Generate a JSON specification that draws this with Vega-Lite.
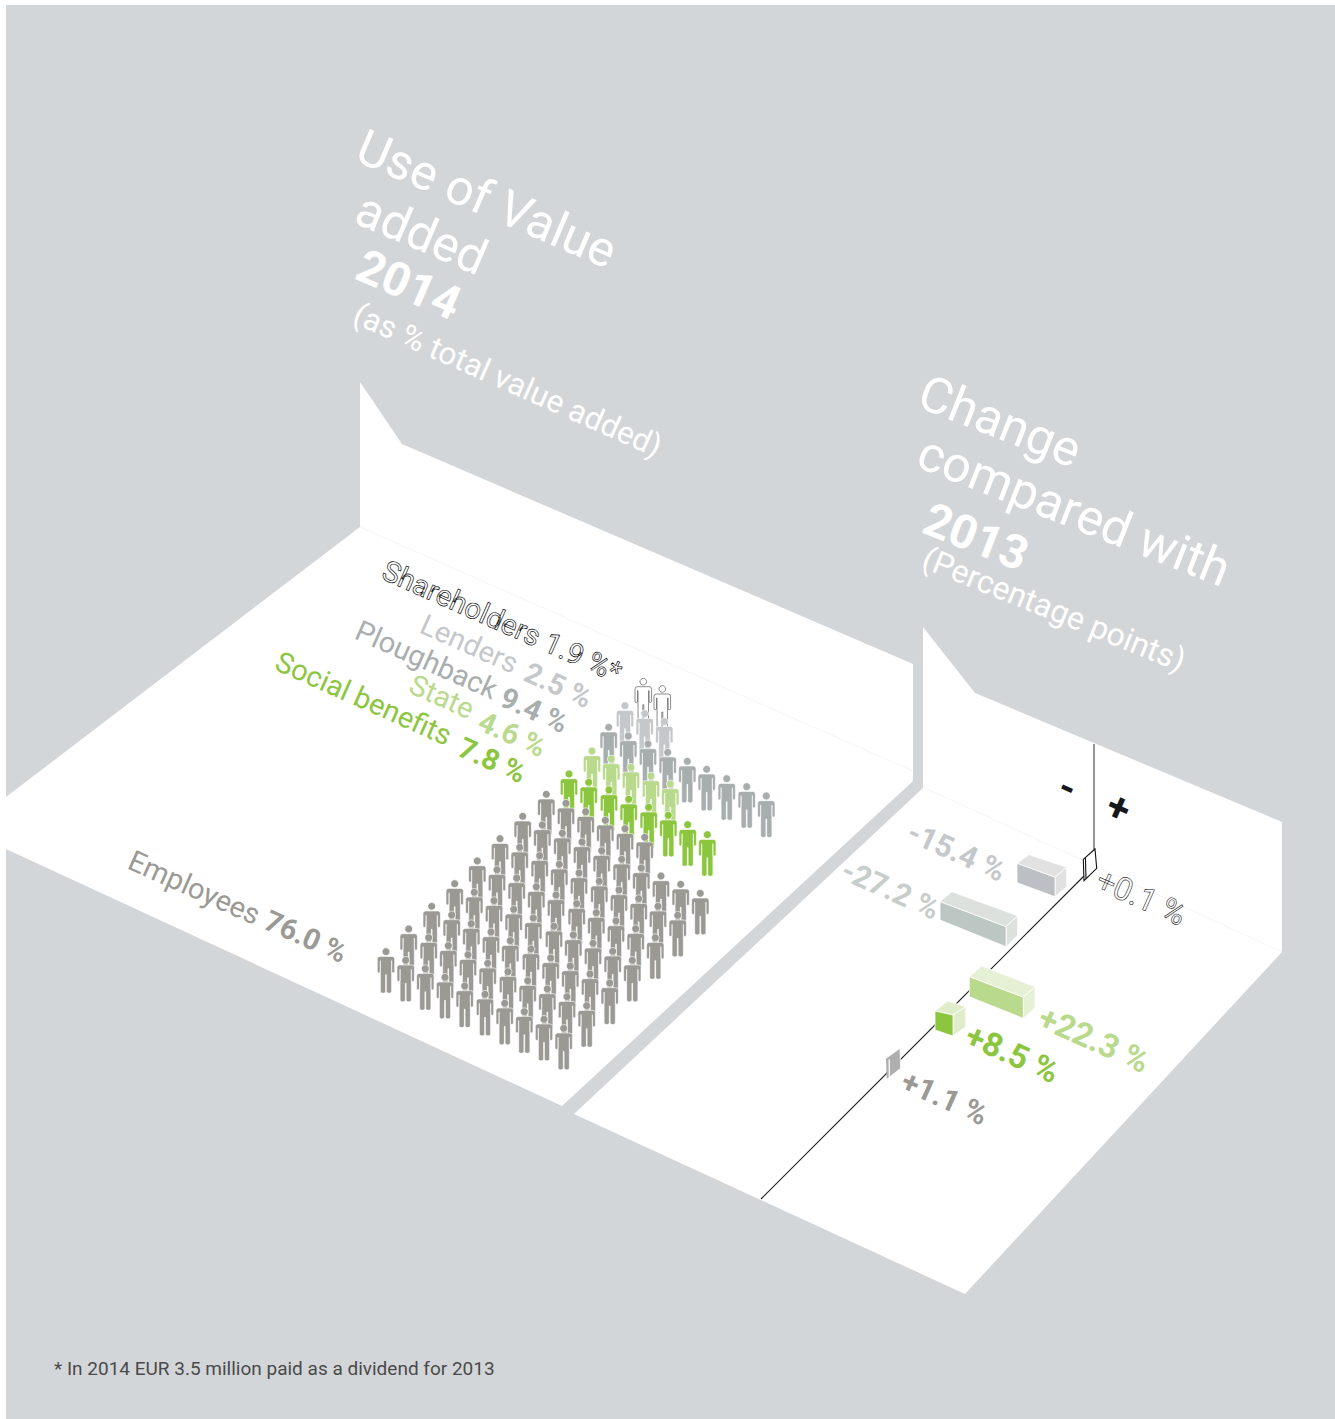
{
"$schema":"https://vega.github.io/schema/vega-lite/v6.json",
"width":1335,"height":1419,"padding":0,"autosize":{"type":"none"},"background":"#ffffff",
"config":{"view":{"stroke":null}},
"datasets":{
"planes":[
{"name":"backdrop","series":"Backdrop","v":1,"x":6,"y":5},{"name":"backdrop","series":"Backdrop","v":2,"x":1335,"y":5},{"name":"backdrop","series":"Backdrop","v":3,"x":1335,"y":1419},{"name":"backdrop","series":"Backdrop","v":4,"x":6,"y":1419},
{"name":"value added","series":"Plane","v":1,"x":360,"y":382},{"name":"value added","series":"Plane","v":2,"x":402,"y":444},{"name":"value added","series":"Plane","v":3,"x":913,"y":664},{"name":"value added","series":"Plane","v":4,"x":913,"y":781},{"name":"value added","series":"Plane","v":5,"x":562,"y":1106},{"name":"value added","series":"Plane","v":6,"x":6,"y":849},{"name":"value added","series":"Plane","v":7,"x":6,"y":797},{"name":"value added","series":"Plane","v":8,"x":360,"y":527},
{"name":"change","series":"Plane","v":1,"x":923,"y":627},{"name":"change","series":"Plane","v":2,"x":975,"y":693},{"name":"change","series":"Plane","v":3,"x":1282,"y":822},{"name":"change","series":"Plane","v":4,"x":1282,"y":952},{"name":"change","series":"Plane","v":5,"x":965,"y":1294},{"name":"change","series":"Plane","v":6,"x":574,"y":1114},{"name":"change","series":"Plane","v":7,"x":923,"y":788}
],
"creases":[
{"name":"left crease","v":1,"x":360,"y":527},{"name":"left crease","v":2,"x":913,"y":771},
{"name":"right crease","v":1,"x":923,"y":787},{"name":"right crease","v":2,"x":1282,"y":952}
],
"axisUp":[{"v":1,"x":1094,"y":744},{"v":2,"x":1094,"y":851}],
"axisFloor":[{"v":1,"x":1084,"y":876},{"v":2,"x":761,"y":1199}],
"faces":[
{"name":"l-top","series":"Lenders side","v":1,"x":1017,"y":863.3},{"name":"l-top","series":"Lenders side","v":2,"x":1029,"y":854.7},{"name":"l-top","series":"Lenders side","v":3,"x":1066.7,"y":867.3},{"name":"l-top","series":"Lenders side","v":4,"x":1055,"y":877.3},{"name":"l-top","series":"Lenders side","v":5,"x":1017,"y":863.3},
{"name":"l-side","series":"Lenders side","v":1,"x":1055,"y":877.3},{"name":"l-side","series":"Lenders side","v":2,"x":1066.7,"y":867.3},{"name":"l-side","series":"Lenders side","v":3,"x":1066.7,"y":886.7},{"name":"l-side","series":"Lenders side","v":4,"x":1055,"y":896.7},{"name":"l-side","series":"Lenders side","v":5,"x":1055,"y":877.3},
{"name":"l-front","series":"Lenders front","v":1,"x":1017,"y":863.3},{"name":"l-front","series":"Lenders front","v":2,"x":1055,"y":877.3},{"name":"l-front","series":"Lenders front","v":3,"x":1055,"y":896.7},{"name":"l-front","series":"Lenders front","v":4,"x":1017,"y":882.7},{"name":"l-front","series":"Lenders front","v":5,"x":1017,"y":863.3},
{"name":"p-top","series":"Ploughback side","v":1,"x":940,"y":901.7},{"name":"p-top","series":"Ploughback side","v":2,"x":951.7,"y":891.7},{"name":"p-top","series":"Ploughback side","v":3,"x":1017.7,"y":915.7},{"name":"p-top","series":"Ploughback side","v":4,"x":1006,"y":926.7},{"name":"p-top","series":"Ploughback side","v":5,"x":940,"y":901.7},
{"name":"p-side","series":"Ploughback side","v":1,"x":1006,"y":926.7},{"name":"p-side","series":"Ploughback side","v":2,"x":1017.7,"y":915.7},{"name":"p-side","series":"Ploughback side","v":3,"x":1017.7,"y":935},{"name":"p-side","series":"Ploughback side","v":4,"x":1006,"y":946.7},{"name":"p-side","series":"Ploughback side","v":5,"x":1006,"y":926.7},
{"name":"p-front","series":"Ploughback front","v":1,"x":940,"y":901.7},{"name":"p-front","series":"Ploughback front","v":2,"x":1006,"y":926.7},{"name":"p-front","series":"Ploughback front","v":3,"x":1006,"y":946.7},{"name":"p-front","series":"Ploughback front","v":4,"x":940,"y":920},{"name":"p-front","series":"Ploughback front","v":5,"x":940,"y":901.7},
{"name":"st-top","series":"State side","v":1,"x":969.3,"y":976.7},{"name":"st-top","series":"State side","v":2,"x":981.7,"y":966},{"name":"st-top","series":"State side","v":3,"x":1035,"y":986.7},{"name":"st-top","series":"State side","v":4,"x":1023.3,"y":997.3},{"name":"st-top","series":"State side","v":5,"x":969.3,"y":976.7},
{"name":"st-side","series":"State side","v":1,"x":1023.3,"y":997.3},{"name":"st-side","series":"State side","v":2,"x":1035,"y":986.7},{"name":"st-side","series":"State side","v":3,"x":1035,"y":1007.7},{"name":"st-side","series":"State side","v":4,"x":1023.3,"y":1018.3},{"name":"st-side","series":"State side","v":5,"x":1023.3,"y":997.3},
{"name":"st-front","series":"State","v":1,"x":969.3,"y":976.7},{"name":"st-front","series":"State","v":2,"x":1023.3,"y":997.3},{"name":"st-front","series":"State","v":3,"x":1023.3,"y":1018.3},{"name":"st-front","series":"State","v":4,"x":969.3,"y":996.7},{"name":"st-front","series":"State","v":5,"x":969.3,"y":976.7},
{"name":"sb-top","series":"Social side","v":1,"x":935,"y":1011},{"name":"sb-top","series":"Social side","v":2,"x":947.7,"y":1001},{"name":"sb-top","series":"Social side","v":3,"x":965.7,"y":1006.7},{"name":"sb-top","series":"Social side","v":4,"x":953,"y":1015},{"name":"sb-top","series":"Social side","v":5,"x":935,"y":1011},
{"name":"sb-side","series":"Social side","v":1,"x":953,"y":1015},{"name":"sb-side","series":"Social side","v":2,"x":965.7,"y":1006.7},{"name":"sb-side","series":"Social side","v":3,"x":965.7,"y":1026.7},{"name":"sb-side","series":"Social side","v":4,"x":953,"y":1036},{"name":"sb-side","series":"Social side","v":5,"x":953,"y":1015},
{"name":"sb-front","series":"Social benefits","v":1,"x":935,"y":1011},{"name":"sb-front","series":"Social benefits","v":2,"x":953,"y":1015},{"name":"sb-front","series":"Social benefits","v":3,"x":953,"y":1036},{"name":"sb-front","series":"Social benefits","v":4,"x":935,"y":1030},{"name":"sb-front","series":"Social benefits","v":5,"x":935,"y":1011},
{"name":"e-side","series":"Employees side","v":1,"x":886,"y":1058.3},{"name":"e-side","series":"Employees side","v":2,"x":900,"y":1048.3},{"name":"e-side","series":"Employees side","v":3,"x":900.7,"y":1068.3},{"name":"e-side","series":"Employees side","v":4,"x":886.7,"y":1079.3},
{"name":"e-strip","series":"Plane","v":1,"x":888.6,"y":1060},{"name":"e-strip","series":"Plane","v":2,"x":889.4,"y":1059.6},{"name":"e-strip","series":"Plane","v":3,"x":889.6,"y":1077},{"name":"e-strip","series":"Plane","v":4,"x":888.8,"y":1077.4}
],
"outlineBox":[
{"name":"box","v":1,"x":1083.3,"y":859.3},{"name":"box","v":2,"x":1095,"y":849},{"name":"box","v":3,"x":1096.7,"y":868.3},{"name":"box","v":4,"x":1084,"y":880.7},{"name":"box","v":5,"x":1083.3,"y":859.3},
{"name":"inner","v":1,"x":1085.4,"y":857.6},{"name":"inner","v":2,"x":1086,"y":878.6}
],
"shareholders":[{"x":643.3,"y":681.7},{"x":662.3,"y":689}],
"people":[
{"series":"Lenders","x":625,"y":705.7},{"series":"Lenders","x":644.7,"y":713.7},{"series":"Lenders","x":664.3,"y":721.7},
{"series":"Ploughback","x":608.7,"y":727.3},{"series":"Ploughback","x":628.3,"y":736},{"series":"Ploughback","x":648,"y":744},{"series":"Ploughback","x":667.7,"y":752.3},{"series":"Ploughback","x":687.3,"y":761.3},{"series":"Ploughback","x":706.7,"y":769.3},{"series":"Ploughback","x":726.7,"y":778.7},{"series":"Ploughback","x":746.7,"y":786.7},{"series":"Ploughback","x":766.3,"y":796},
{"series":"State","x":592,"y":751},{"series":"State","x":611.3,"y":759},{"series":"State","x":631,"y":767.3},{"series":"State","x":651,"y":776},{"series":"State","x":670.3,"y":784},
{"series":"Social benefits","x":569,"y":774},{"series":"Social benefits","x":588.7,"y":782.3},{"series":"Social benefits","x":609,"y":790},{"series":"Social benefits","x":628.7,"y":799.3},{"series":"Social benefits","x":648.7,"y":807.3},{"series":"Social benefits","x":668.3,"y":815.3},{"series":"Social benefits","x":687.7,"y":824.7},{"series":"Social benefits","x":707.3,"y":834.7},
{"series":"Employees","x":386,"y":951.7},{"series":"Employees","x":408.7,"y":929},{"series":"Employees","x":431.7,"y":906.3},{"series":"Employees","x":454.7,"y":883.7},{"series":"Employees","x":477.3,"y":861},{"series":"Employees","x":500,"y":838.7},{"series":"Employees","x":522.7,"y":816.3},{"series":"Employees","x":546.3,"y":794.3},
{"series":"Employees","x":405.7,"y":960.3},{"series":"Employees","x":428.7,"y":937.7},{"series":"Employees","x":451.7,"y":915},{"series":"Employees","x":474.3,"y":892.3},{"series":"Employees","x":497,"y":869.7},{"series":"Employees","x":519.7,"y":847.3},{"series":"Employees","x":542.3,"y":825},{"series":"Employees","x":566,"y":803.3},
{"series":"Employees","x":425.3,"y":968.7},{"series":"Employees","x":448.3,"y":945.7},{"series":"Employees","x":471.3,"y":923.7},{"series":"Employees","x":494,"y":900.7},{"series":"Employees","x":516.7,"y":878},{"series":"Employees","x":539.7,"y":855.7},{"series":"Employees","x":562.3,"y":833.3},{"series":"Employees","x":585.7,"y":811.7},
{"series":"Employees","x":445,"y":977.3},{"series":"Employees","x":468,"y":954.7},{"series":"Employees","x":491,"y":932},{"series":"Employees","x":513.7,"y":909.3},{"series":"Employees","x":536.3,"y":886.7},{"series":"Employees","x":559.3,"y":864.3},{"series":"Employees","x":582,"y":842},{"series":"Employees","x":605.3,"y":820.3},
{"series":"Employees","x":464.7,"y":986},{"series":"Employees","x":487.7,"y":963.3},{"series":"Employees","x":510.3,"y":940.7},{"series":"Employees","x":533.3,"y":918},{"series":"Employees","x":556,"y":895},{"series":"Employees","x":579,"y":873},{"series":"Employees","x":601.7,"y":850.7},{"series":"Employees","x":625,"y":828.7},
{"series":"Employees","x":485,"y":994.3},{"series":"Employees","x":508,"y":971.7},{"series":"Employees","x":531,"y":949},{"series":"Employees","x":554,"y":926.3},{"series":"Employees","x":576.7,"y":903.7},{"series":"Employees","x":599.3,"y":881.3},{"series":"Employees","x":621.7,"y":859.3},{"series":"Employees","x":644.7,"y":837.3},
{"series":"Employees","x":504.7,"y":1003.3},{"series":"Employees","x":527.7,"y":980.7},{"series":"Employees","x":550.7,"y":958},{"series":"Employees","x":573.3,"y":935},{"series":"Employees","x":596.3,"y":912.7},{"series":"Employees","x":619,"y":890},{"series":"Employees","x":641.3,"y":868},
{"series":"Employees","x":524.3,"y":1011.7},{"series":"Employees","x":547.3,"y":989},{"series":"Employees","x":570.3,"y":966},{"series":"Employees","x":593,"y":943.3},{"series":"Employees","x":616,"y":921},{"series":"Employees","x":638.7,"y":898.7},{"series":"Employees","x":661,"y":876},
{"series":"Employees","x":544,"y":1019.3},{"series":"Employees","x":567,"y":996.7},{"series":"Employees","x":590,"y":974},{"series":"Employees","x":612.7,"y":951.3},{"series":"Employees","x":635.7,"y":928.7},{"series":"Employees","x":658,"y":906.3},{"series":"Employees","x":680.7,"y":884.3},
{"series":"Employees","x":563.7,"y":1028.3},{"series":"Employees","x":586.7,"y":1005.7},{"series":"Employees","x":609.7,"y":983},{"series":"Employees","x":632.3,"y":960.3},{"series":"Employees","x":655.3,"y":937.7},{"series":"Employees","x":677.7,"y":915.3},{"series":"Employees","x":700.3,"y":893.3}
],
"titlesLeft":[
{"series":"Title","text":"Use of Value","x":353,"y":160},{"series":"Title","text":"added","x":352,"y":222}
],
"titlesRight":[
{"series":"Title","text":"Change","x":915,"y":406},{"series":"Title","text":"compared with","x":914,"y":466}
],
"yearsLeft":[{"series":"Title","text":"2014","x":353,"y":278}],
"yearsRight":[{"series":"Title","text":"2013","x":920,"y":532}],
"subtitleLeft":[{"series":"Title","text":"(as % total value added)","x":351,"y":322}],
"subtitleRight":[{"series":"Title","text":"(Percentage points)","x":920,"y":567}],
"names":[
{"series":"Lenders","text":"Lenders","x":418,"y":632},{"series":"Ploughback","text":"Ploughback","x":353,"y":638},{"series":"State","text":"State","x":407,"y":692},{"series":"Social benefits","text":"Social benefits","x":273,"y":669},{"series":"Employees","text":"Employees","x":126,"y":868}
],
"shares":[
{"series":"Lenders","text":"2.5 %","x":522,"y":680},{"series":"Ploughback","text":"9.4 %","x":498,"y":705},{"series":"State","text":"4.6 %","x":476,"y":729},{"series":"Social benefits","text":"7.8 %","x":456,"y":755},{"series":"Employees","text":"76.0 %","x":262,"y":928}
],
"outlined":[{"text":"Shareholders 1.9 %*","x":380,"y":578}],
"outlinedDelta":[{"text":"+0.1 %","x":1094,"y":888}],
"deltasGrey":[
{"series":"Lenders","text":"-15.4 %","x":905,"y":840},{"series":"Ploughback light","text":"-27.2 %","x":839,"y":878},{"series":"Employees","text":"+1.1 %","x":899,"y":1089}
],
"deltasGreen":[
{"series":"State","text":"+22.3 %","x":1036,"y":1026},{"series":"Social benefits","text":"+8.5 %","x":963,"y":1044}
],
"signs":[{"series":"Sign","text":"-","x":1067,"y":789},{"series":"Sign","text":"+","x":1118,"y":809}],
"footnote":[{"series":"Footnote","text":"* In 2014 EUR 3.5 million paid as a dividend for 2013","x":54,"y":1375}]
},
"encoding":{
"x":{"field":"x","type":"quantitative","axis":null,"scale":{"domain":[0,1335],"nice":false,"zero":false}},
"y":{"field":"y","type":"quantitative","axis":null,"scale":{"domain":[1419,0],"nice":false,"zero":false}},
"fill":{"field":"series","type":"nominal","legend":null,"scale":{
"domain":["Backdrop","Plane","Title","Footnote","Sign","Employees","Employees side","Social benefits","Social side","State","State side","Ploughback","Ploughback light","Ploughback front","Ploughback side","Lenders","Lenders front","Lenders side"],
"range":["#d3d6d9","#ffffff","#ffffff","#4a4a4a","#15181a","#9a9994","#afafaf","#8cc63f","#dfedcb","#b9da8c","#e5f0d5","#a8aeae","#c6cdca","#bcc6c2","#dde1de","#c5c8cb","#bcbfc3","#e1e1e2"]}}
},
"layer":[
{"data":{"name":"planes"},"mark":{"type":"line","strokeWidth":0,"interpolate":"linear"},"encoding":{"detail":{"field":"name"},"order":{"field":"v"}}},
{"data":{"name":"creases"},"mark":{"type":"line","stroke":"#f0f0f0","strokeWidth":0.7},"encoding":{"fill":null,"detail":{"field":"name"},"order":{"field":"v"}}},
{"data":{"name":"axisUp"},"mark":{"type":"line","stroke":"#5c5e60","strokeWidth":1.3},"encoding":{"fill":null,"order":{"field":"v"}}},
{"data":{"name":"axisFloor"},"mark":{"type":"line","stroke":"#222222","strokeWidth":1.2},"encoding":{"fill":null,"order":{"field":"v"}}},
{"data":{"name":"faces"},"mark":{"type":"line","stroke":"#ffffff","strokeWidth":0.8},"encoding":{"detail":{"field":"name"},"order":{"field":"v"}}},
{"data":{"name":"outlineBox"},"mark":{"type":"line","stroke":"#111111","strokeWidth":1.1},"encoding":{"fill":{"value":"#ffffff"},"detail":{"field":"name"},"order":{"field":"v"}}},
{"data":{"name":"shareholders"},"mark":{"type":"point","filled":true,"opacity":1,"size":4,"stroke":"#5a5a5a","strokeWidth":0.7,"shape":"M-3.3 0A3.3 3.3 0 1 1 3.3 0A3.3 3.3 0 1 1 -3.3 0ZM-6 5L6 5Q8.3 5 8.3 7.5L8.3 19.5Q8.3 20.8 7 20.8Q5.8 20.8 5.8 19.5L5.8 9L5.3 9L5.2 39.5Q5.2 41.3 3 41.3Q0.5 41.3 0.5 39.5L0.5 23L-0.5 23L-0.5 39.5Q-0.5 41.3 -3 41.3Q-5.2 41.3 -5.2 39.5L-5.3 9L-5.8 9L-5.8 19.5Q-5.8 20.8 -7 20.8Q-8.3 20.8 -8.3 19.5L-8.3 7.5Q-8.3 5 -6 5Z"},"encoding":{"fill":{"value":"#ffffff"}}},
{"data":{"name":"people"},"mark":{"type":"point","filled":true,"opacity":1,"size":4,"stroke":"#ffffff","strokeWidth":0.6,"shape":"M-3.9 0A3.9 3.9 0 1 1 3.9 0A3.9 3.9 0 1 1 -3.9 0ZM-6.3 4.7L6.3 4.7Q8.7 4.7 8.7 7.2L8.7 19.8Q8.7 21.2 7.2 21.2Q5.7 21.2 5.7 19.8L5.7 9L5.6 9L5.6 39.8Q5.6 41.6 3.1 41.6Q0.4 41.6 0.4 39.8L0.4 23L-0.4 23L-0.4 39.8Q-0.4 41.6 -3.1 41.6Q-5.6 41.6 -5.6 39.8L-5.6 9L-5.7 9L-5.7 19.8Q-5.7 21.2 -7.2 21.2Q-8.7 21.2 -8.7 19.8L-8.7 7.2Q-8.7 4.7 -6.3 4.7Z"},"encoding":{"order":{"field":"y"}}},
{"data":{"name":"titlesLeft"},"mark":{"type":"text","font":"Roboto","fontSize":49.5,"angle":23.2,"align":"left","baseline":"alphabetic"},"encoding":{"text":{"field":"text"}}},
{"data":{"name":"titlesRight"},"mark":{"type":"text","font":"Roboto","fontSize":50,"angle":21.5,"align":"left","baseline":"alphabetic"},"encoding":{"text":{"field":"text"}}},
{"data":{"name":"yearsLeft"},"mark":{"type":"text","font":"Roboto","fontWeight":"bold","fontSize":47,"angle":23.5,"align":"left","baseline":"alphabetic"},"encoding":{"text":{"field":"text"}}},
{"data":{"name":"yearsRight"},"mark":{"type":"text","font":"Roboto","fontWeight":"bold","fontSize":47,"angle":21.5,"align":"left","baseline":"alphabetic"},"encoding":{"text":{"field":"text"}}},
{"data":{"name":"subtitleLeft"},"mark":{"type":"text","font":"Roboto","fontSize":31.5,"angle":24,"align":"left","baseline":"alphabetic"},"encoding":{"text":{"field":"text"}}},
{"data":{"name":"subtitleRight"},"mark":{"type":"text","font":"Roboto","fontSize":32,"angle":22,"align":"left","baseline":"alphabetic"},"encoding":{"text":{"field":"text"}}},
{"data":{"name":"names"},"mark":{"type":"text","font":"Roboto","fontSize":29,"angle":24,"align":"left","baseline":"alphabetic"},"encoding":{"text":{"field":"text"}}},
{"data":{"name":"shares"},"mark":{"type":"text","font":"Roboto","fontWeight":"bold","fontSize":29,"angle":24,"align":"left","baseline":"alphabetic"},"encoding":{"text":{"field":"text"}}},
{"data":{"name":"outlined"},"mark":{"type":"text","font":"Roboto","fontSize":29,"angle":24,"align":"left","baseline":"alphabetic","stroke":"#000000","strokeWidth":0.65},"encoding":{"fill":{"value":"#ffffff"},"text":{"field":"text"}}},
{"data":{"name":"outlinedDelta"},"mark":{"type":"text","font":"Roboto","fontSize":32,"angle":24,"align":"left","baseline":"alphabetic","stroke":"#222222","strokeWidth":0.6},"encoding":{"fill":{"value":"#ffffff"},"text":{"field":"text"}}},
{"data":{"name":"deltasGrey"},"mark":{"type":"text","font":"Roboto","fontWeight":"bold","fontSize":30.5,"angle":24,"align":"left","baseline":"alphabetic"},"encoding":{"text":{"field":"text"}}},
{"data":{"name":"deltasGreen"},"mark":{"type":"text","font":"Roboto","fontWeight":"bold","fontSize":33,"angle":24,"align":"left","baseline":"alphabetic"},"encoding":{"text":{"field":"text"}}},
{"data":{"name":"signs"},"mark":{"type":"text","font":"Roboto","fontWeight":"bold","fontSize":40,"angle":24,"align":"center","baseline":"middle"},"encoding":{"text":{"field":"text"}}},
{"data":{"name":"footnote"},"mark":{"type":"text","font":"Roboto","fontSize":19,"align":"left","baseline":"alphabetic"},"encoding":{"text":{"field":"text"}}}
]
}
